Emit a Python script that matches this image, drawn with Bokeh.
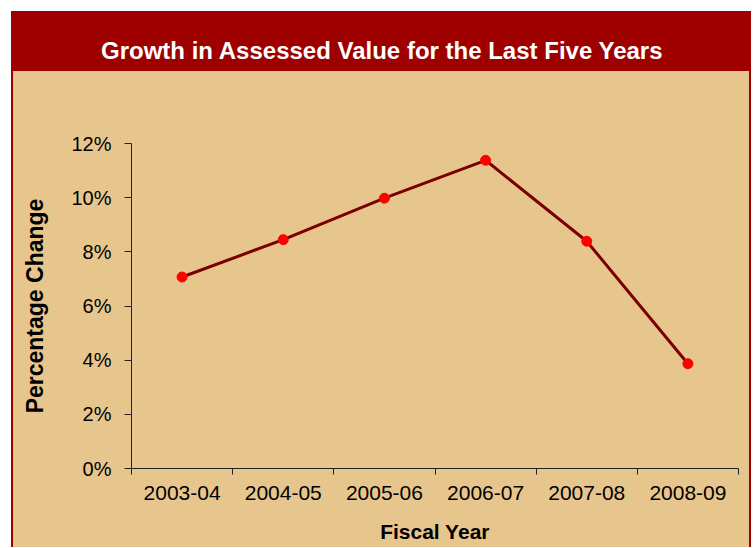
import numpy as np
from bokeh.plotting import figure
from bokeh.layouts import column
from bokeh.models import Title, FixedTicker, NumeralTickFormatter, Range1d, LinearAxis
from bokeh.embed import file_html
from bokeh.resources import INLINE

# ---- data ----
years = ["2003-04", "2004-05", "2005-06", "2006-07", "2007-08", "2008-09"]
growth = [0.0707, 0.0845, 0.0998, 0.1138, 0.0839, 0.0387]
y_ticks = [0.0, 0.02, 0.04, 0.06, 0.08, 0.10, 0.12]
title_text = "Growth in Assessed Value for the Last Five Years"

RED_DARK = "#9E0000"
BEIGE = "#E7C68D"
LINE = "#7A0000"
DOT = "#FF0000"
FONT = "Liberation Sans"

# ---- header ----
header = figure(width=740, height=60, output_backend="svg", toolbar_location=None,
                x_range=Range1d(0, 1), y_range=Range1d(0, 1),
                min_border=0, min_border_left=0, min_border_right=0,
                min_border_top=0, min_border_bottom=0,
                x_axis_location=None, y_axis_location=None)
header.border_fill_color = RED_DARK
header.background_fill_color = RED_DARK
header.outline_line_color = None
header.grid.visible = False
header.add_layout(Title(text=title_text, align="left", offset=-28.5, standoff=15,
                        text_color="white", text_font=FONT, text_font_style="bold",
                        text_font_size="24px"), "below")

# ---- main chart ----
n = len(years)
xs = np.arange(n) + 0.5

p = figure(width=736, height=476, output_backend="svg", toolbar_location=None,
           x_range=Range1d(0, n), y_range=Range1d(0, 0.12),
           min_border_left=118, min_border_right=11,
           min_border_top=72, min_border_bottom=79,
           x_axis_location=None, y_axis_location=None,
           margin=(0, 2, 0, 2), styles={"background-color": BEIGE})
p.border_fill_color = BEIGE
p.background_fill_color = BEIGE
p.outline_line_color = None
p.grid.visible = False

xaxis = LinearAxis(ticker=FixedTicker(ticks=list(xs), minor_ticks=list(range(n + 1))),
                   major_label_overrides={float(x): y for x, y in zip(xs, years)})
xaxis.major_tick_line_color = None
xaxis.major_tick_out = 0
xaxis.major_tick_in = 0
xaxis.minor_tick_line_color = "#222222"
xaxis.minor_tick_out = 6
xaxis.minor_tick_in = 0
xaxis.axis_line_color = "#222222"
xaxis.major_label_text_font = FONT
xaxis.major_label_text_font_size = "21px"
xaxis.major_label_text_color = "black"
xaxis.major_label_standoff = 11
xaxis.axis_label = "Fiscal Year"
xaxis.axis_label_text_font = FONT
xaxis.axis_label_text_font_style = "bold"
xaxis.axis_label_text_font_size = "21px"
xaxis.axis_label_text_color = "black"
xaxis.axis_label_standoff = 17
p.add_layout(xaxis, "below")

yaxis = LinearAxis(ticker=FixedTicker(ticks=y_ticks, minor_ticks=[]),
                   formatter=NumeralTickFormatter(format="0%"))
yaxis.major_tick_line_color = "#222222"
yaxis.major_tick_out = 7
yaxis.major_tick_in = 0
yaxis.minor_tick_line_color = None
yaxis.axis_line_color = "#222222"
yaxis.major_label_text_font = FONT
yaxis.major_label_text_font_size = "20px"
yaxis.major_label_text_color = "black"
yaxis.major_label_standoff = 13
yaxis.axis_label = "Percentage Change"
yaxis.axis_label_text_font = FONT
yaxis.axis_label_text_font_style = "bold"
yaxis.axis_label_text_font_size = "23px"
yaxis.axis_label_text_color = "black"
yaxis.axis_label_standoff = 20
p.add_layout(yaxis, "left")

p.line(xs, growth, line_color=LINE, line_width=3)
p.scatter(xs, growth, size=10, fill_color=DOT, line_color=DOT)

layout = column(header, p, margin=(11, 0, 0, 11),
                styles={"background-color": RED_DARK})

open("out.html", "w").write(file_html(layout, INLINE))
